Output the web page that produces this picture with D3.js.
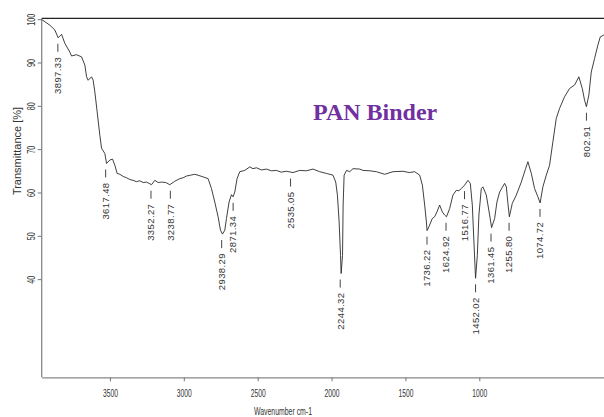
<!DOCTYPE html>
<html>
<head>
<meta charset="utf-8">
<script src="https://cdn.jsdelivr.net/npm/d3@7"></script>
<style>
  html, body { margin: 0; padding: 0; background: #fff; }
  svg { display: block; }
</style>
</head>
<body>
<svg id="chart" width="604" height="417"></svg>
<script>
// ---- data (wavenumber cm-1, transmittance %) ----
const wavenumbers = [3991,3944,3915,3895.6,3875.7,3856.4,3827.1,3817.2,3787.9,3758.7,3739.3,3729.4,3720,3700.1,3690.8,3680.8,3667.3,3651.6,3641.6,3622.3,3612.4,3593,3577.3,3563.8,3550.3,3534.5,3515,3495.3,3476,3456.7,3437,3417.5,3398,3378.3,3349.1,3329.8,3310,3290.5,3265.4,3242,3212.7,3183.5,3164,3144.2,3120,3095.7,3070,3047.1,3017.9,2998,2978.7,2959.3,2945.3,2933.6,2920.1,2910.2,2895,2881,2871.6,2861.6,2848.2,2832.4,2803.1,2773.9,2755,2734.7,2705,2676.2,2647,2617.7,2590,2559.2,2520.5,2481.5,2443,2403.6,2364.3,2325.1,2286.5,2270.6,2260.7,2250.7,2242.5,2239,2230.8,2227.3,2221.5,2207.2,2188.7,2169.4,2130.2,2110.9,2070,2032.5,1984,1935.3,1876.8,1840,1808.3,1779.1,1763.3,1749.8,1739.8,1736,1725,1705,1691.5,1678,1662.2,1646.4,1633,1622,1603.7,1584.4,1564.5,1550,1535.3,1516,1496.6,1482.6,1470.9,1461.5,1452,1441.6,1432.3,1418.3,1408.9,1389,1369.7,1358,1340.3,1326.8,1311.1,1281.8,1271.9,1262.5,1254,1236.8,1213.4,1184.1,1159,1145.5,1125.6,1106.3,1087,1074,1057.8,1037.9,1018.6,999.3,979.4,960.1,930.8,901.6,872.3,847.1,827.2,813.8,802.9,788.6,774.6,755.3,736,721.9,702.6,690];
const transmittance = [99.9,98.6,97.5,95.7,96.5,94.4,92.4,91.5,91.8,91.3,89.4,86.7,85.9,86.7,85.9,83.2,78.6,73.2,70.2,69.0,66.7,67.5,67.7,66.3,64.4,64.2,63.7,63.4,63.0,62.8,62.5,62.7,62.3,62.4,61.8,62.8,62.3,62.4,62.3,61.8,62.6,63.2,63.4,63.8,64.0,64.2,63.9,63.6,63.2,60.9,57.8,54.4,51.3,50.4,51.3,54.0,57.8,59.5,59.0,60.1,63.2,64.8,65.1,65.9,65.5,65.7,65.2,65.4,65.0,65.1,64.7,64.9,64.6,65.1,65.0,65.4,64.8,64.4,64.0,62.4,59.4,53.2,45.5,41.3,45.5,57.1,64.0,65.1,64.8,65.5,65.4,65.1,65.0,64.8,64.2,64.8,64.9,64.6,64.8,64.0,61.7,57.1,53.2,51.2,52.1,54.0,54.4,55.5,57.1,55.5,54.8,54.4,56.3,59.4,60.5,60.4,60.9,61.7,62.8,62.1,57.1,48.6,40.2,45.5,54.8,60.9,61.3,59.4,54.8,51.9,54.0,57.8,60.1,62.1,61.3,57.5,54.4,57.5,59.4,62.4,65.5,67.1,64.4,60.9,59.0,57.6,61.3,64.0,66.3,71.7,77.1,79.4,82.1,84.0,84.8,86.7,84.0,81.3,79.8,82.5,87.8,90.9,94.0,95.9,96.3,96.3];

// labelled bands: wavenumber and transmittance at the band minimum
const peakLabels = ["3897.33","3617.48","3352.27","3238.77","2938.29","2871.34","2535.05","2244.32","1736.22","1624.92","1516.77","1452.02","1361.45","1255.80","1074.72","802.91"];
const peakMinT = [95.7,66.7,61.8,61.8,50.4,59.0,64.6,41.3,51.2,54.4,61.7,40.2,51.9,54.4,57.6,79.8];

const xTickValues = [3500,3000,2500,2000,1500,1000];
const yTickValues = [40,50,60,70,80,90,100];

const title = "PAN Binder";
const xTitle = "Wavenumber cm-1";
const yTitle = "Transmittance [%]";

// ---- layout ----
const L = 41.7, R = 604, T = 18.3, B = 377.3;
const svg = d3.select("#chart");

// spectrum scale
const x = d3.scaleLinear().domain([3992, 700]).range([L, R]);
// axis tick scale (tick labels of the original axis)
const xAxisScale = d3.scaleLinear().domain([3962, 156]).range([L, R]);
const y = d3.scaleLinear().domain([17.35, 100.2]).range([B, T]);

const data = wavenumbers.map((w, i) => ({w, t: transmittance[i]}));

svg.append("defs").append("clipPath").attr("id", "clip")
  .append("rect").attr("x", L).attr("y", T - 2).attr("width", R - L).attr("height", B - T + 2);

// top border
svg.append("line").attr("x1", L).attr("x2", R).attr("y1", T).attr("y2", T)
  .attr("stroke", "#222").attr("stroke-width", 1.3);

// bottom axis
const gx = svg.append("g").attr("transform", `translate(0,${B})`)
  .call(d3.axisBottom(xAxisScale).tickValues(xTickValues).tickSize(4).tickSizeOuter(0).tickFormat(d3.format("d")));
gx.select(".domain").attr("stroke", "#888").attr("stroke-width", 1.3);
gx.selectAll(".tick line").attr("stroke", "#777");
gx.selectAll(".tick text")
  .attr("y", 20).attr("dy", 0)
  .attr("font-family", "Liberation Sans Narrow, Arial, sans-serif")
  .attr("font-size", 11).attr("fill", "#333")
  .attr("textLength", 15).attr("lengthAdjust", "spacingAndGlyphs");

// left axis
const gy = svg.append("g").attr("transform", `translate(${L},0)`)
  .call(d3.axisLeft(y).tickValues(yTickValues).tickSize(4).tickSizeOuter(0));
gy.select(".domain").attr("d", `M0,${T}V${B}`).attr("stroke", "#888").attr("stroke-width", 1.3);
gy.selectAll(".tick line").attr("stroke", "#777");
gy.selectAll(".tick text")
  .attr("x", 0).attr("y", 0).attr("dy", 0)
  .attr("text-anchor", "middle")
  .attr("transform", "translate(-7,0) rotate(-90)")
  .attr("font-family", "Liberation Sans Narrow, Arial, sans-serif")
  .attr("font-size", 11).attr("fill", "#333")
  .attr("textLength", d => d >= 100 ? 12 : 8).attr("lengthAdjust", "spacingAndGlyphs");

// axis titles
svg.append("text").attr("transform", `translate(21,151) rotate(-90)`)
  .attr("text-anchor", "middle").attr("font-family", "Arial, Liberation Sans, sans-serif")
  .attr("font-size", 11).attr("fill", "#333").text(yTitle);
svg.append("text").attr("x", 283).attr("y", 415)
  .attr("text-anchor", "middle").attr("font-family", "Liberation Sans Narrow, Arial, sans-serif")
  .attr("font-size", 10).attr("fill", "#333")
  .attr("textLength", 58).attr("lengthAdjust", "spacingAndGlyphs").text(xTitle);

// spectrum
const line = d3.line().x(d => x(d.w)).y(d => y(d.t));
svg.append("path").datum(data).attr("clip-path", "url(#clip)")
  .attr("fill", "none").attr("stroke", "#2a2a2a").attr("stroke-width", 0.9)
  .attr("stroke-linejoin", "round").attr("d", line);

// peak labels
const peaks = peakLabels.map((s, i) => ({label: s, w: +s, t: peakMinT[i]}));
const pg = svg.append("g").selectAll("g").data(peaks).join("g")
  .attr("transform", d => `translate(${x(d.w)},${y(d.t)})`);
pg.append("line").attr("x1", 0).attr("x2", 0).attr("y1", 6).attr("y2", 14)
  .attr("stroke", "#444").attr("stroke-width", 1);
pg.append("text").attr("transform", "translate(0,19) rotate(-90)")
  .attr("text-anchor", "end").attr("dy", "0.35em")
  .attr("font-family", "Arial, Liberation Sans, sans-serif")
  .attr("font-size", 9.5).attr("fill", "#333")
  .attr("letter-spacing", 0.4).text(d => d.label);

// title
svg.append("text").attr("x", 313).attr("y", 120)
  .attr("font-family", "Liberation Serif, Times New Roman, serif")
  .attr("font-weight", "bold").attr("font-size", 24).attr("fill", "#7030A0")
  .text(title);
</script>
</body>
</html>
